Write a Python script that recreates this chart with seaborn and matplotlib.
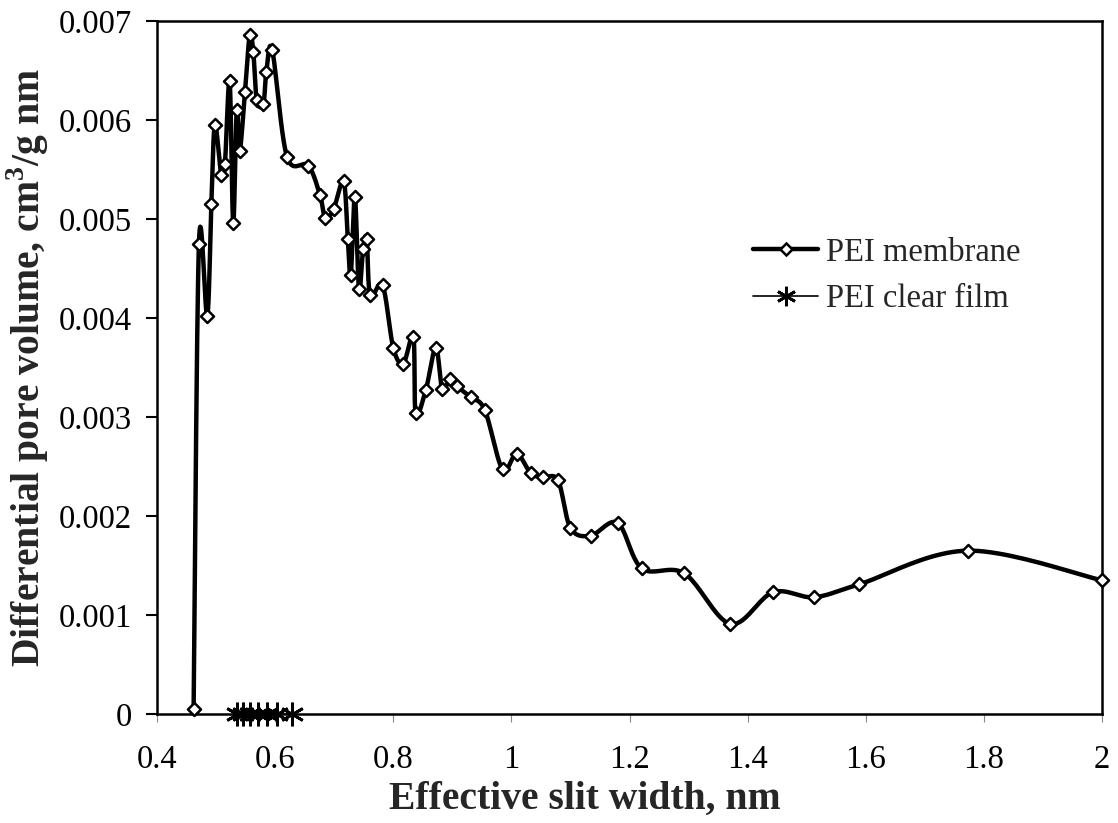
import numpy as np
import matplotlib
matplotlib.use("Agg")
import matplotlib.pyplot as plt
from matplotlib.lines import Line2D
import seaborn as sns

# Pore size distribution, PEI membrane
membrane_width = [0.462, 0.471, 0.485, 0.492, 0.498, 0.509, 0.515, 0.523, 0.529,
                  0.535, 0.540, 0.549, 0.557, 0.563, 0.569, 0.580, 0.585, 0.595,
                  0.620, 0.656, 0.676, 0.685, 0.699, 0.716, 0.723, 0.728, 0.735,
                  0.742, 0.749, 0.755, 0.761, 0.782, 0.800, 0.817, 0.834, 0.838,
                  0.855, 0.872, 0.883, 0.896, 0.908, 0.931, 0.955, 0.985, 1.009,
                  1.033, 1.054, 1.079, 1.100, 1.134, 1.180, 1.221, 1.293, 1.371,
                  1.443, 1.512, 1.589, 1.773, 2.000]
membrane_volume = [0.00005, 0.00475, 0.00402, 0.00515, 0.00595, 0.00544, 0.00556,
                   0.00639, 0.00496, 0.00610, 0.00569, 0.00628, 0.00686, 0.00669,
                   0.00620, 0.00616, 0.00648, 0.00671, 0.00563, 0.00554, 0.00524,
                   0.00501, 0.00510, 0.00538, 0.00480, 0.00443, 0.00522, 0.00429,
                   0.00470, 0.00480, 0.00423, 0.00433, 0.00370, 0.00354, 0.00381,
                   0.00304, 0.00327, 0.00370, 0.00328, 0.00338, 0.00331, 0.00320,
                   0.00307, 0.00247, 0.00263, 0.00243, 0.00239, 0.00236, 0.00188,
                   0.00180, 0.00193, 0.00147, 0.00142, 0.00091, 0.00123, 0.00118,
                   0.00131, 0.00165, 0.00135]

# Pore size distribution, PEI clear film
film_width = [0.535, 0.546, 0.557, 0.571, 0.586, 0.603, 0.628]
film_volume = [0.0, 0.0, 0.0, 0.0, 0.0, 0.0, 0.0]

series_labels = ["PEI membrane", "PEI clear film"]
x_ticks = [0.4, 0.6, 0.8, 1.0, 1.2, 1.4, 1.6, 1.8, 2.0]
x_tick_labels = ["0.4", "0.6", "0.8", "1", "1.2", "1.4", "1.6", "1.8", "2"]
y_ticks = [0.0, 0.001, 0.002, 0.003, 0.004, 0.005, 0.006, 0.007]
y_tick_labels = ["0", "0.001", "0.002", "0.003", "0.004", "0.005", "0.006", "0.007"]

sns.set_theme(style="ticks")
plt.rcParams["font.family"] = ["Liberation Serif", "DejaVu Serif"]
plt.rcParams["mathtext.fontset"] = "custom"
plt.rcParams["mathtext.rm"] = "Liberation Serif"
plt.rcParams["mathtext.bf"] = "Liberation Serif:bold"

W, H = 1118, 823
fig = plt.figure(figsize=(W / 100, H / 100), dpi=100)
ax_l, ax_r, ax_t, ax_b = 157, 1102, 21, 714
ax = fig.add_axes([ax_l / W, (H - ax_b) / H, (ax_r - ax_l) / W, (ax_b - ax_t) / H])

x_min, x_max, y_min, y_max = 0.4, 2.0, 0.0, 0.007


def smooth_curve(xs, ys, sx, sy, n=24):
    """Bezier-smoothed path through the points (Catmull-Rom tangents),
    computed in screen-proportional units so both axes are treated alike."""
    p = np.column_stack([np.asarray(xs) * sx, np.asarray(ys) * sy])
    ext = np.vstack([p[0], p, p[-1]])
    t = np.linspace(0, 1, n)[:, None]
    parts = []
    for i in range(len(p) - 1):
        p0, p1, p2, p3 = ext[i], ext[i + 1], ext[i + 2], ext[i + 3]
        c1 = p1 + (p2 - p0) / 6.0
        c2 = p2 - (p3 - p1) / 6.0
        seg = ((1 - t) ** 3) * p1 + 3 * ((1 - t) ** 2) * t * c1 \
            + 3 * (1 - t) * (t ** 2) * c2 + (t ** 3) * p2
        parts.append(seg if i == 0 else seg[1:])
    pts = np.vstack(parts)
    return pts[:, 0] / sx, pts[:, 1] / sy


sx = (ax_r - ax_l) / (x_max - x_min)
sy = (ax_b - ax_t) / (y_max - y_min)
cx, cy = smooth_curve(membrane_width, membrane_volume, sx, sy)

line_w = 3.2
sns.lineplot(x=cx, y=cy, sort=False, estimator=None, color="black",
             linewidth=line_w, ax=ax, zorder=3)
sns.scatterplot(x=membrane_width, y=membrane_volume, marker="D", s=44,
                color="white", edgecolor="black", linewidth=1.8, ax=ax,
                zorder=4, clip_on=False)

sns.lineplot(x=film_width, y=film_volume, sort=False, estimator=None,
             color="black", linewidth=1.2, marker=(6, 2, 0), markersize=17,
             markeredgewidth=2.0, markeredgecolor="black", ax=ax, zorder=5,
             clip_on=False)

ax.set_xlim(x_min, x_max)
ax.set_ylim(y_min, y_max)
ax.set_xticks(x_ticks)
ax.set_xticklabels(x_tick_labels)
ax.set_yticks(y_ticks)
ax.set_yticklabels(y_tick_labels)

for side in ["left", "right", "top", "bottom"]:
    ax.spines[side].set_visible(True)
    ax.spines[side].set_color("black")
    ax.spines[side].set_linewidth(1.8)

tick_fs = 23.5
ax.tick_params(axis="y", direction="out", length=8, width=1.5, pad=10,
               labelsize=tick_fs, colors="black")
ax.tick_params(axis="x", direction="out", length=6, width=0.8, pad=16,
               labelsize=tick_fs, color="#888888", labelcolor="black")

label_fs = 28.5
ax.set_xlabel("Effective slit width, nm", fontsize=label_fs, fontweight="bold")
ax.set_ylabel(r"Differential pore volume, cm$^{\mathbf{3}}$/g nm", fontsize=label_fs,
              fontweight="bold")
ax.xaxis.set_label_coords(0.453, -0.097)
ax.yaxis.set_label_coords(-0.112, 0.5)

handles = [
    Line2D([], [], color="black", linewidth=line_w, marker="D", markersize=6.6,
           markerfacecolor="white", markeredgecolor="black", markeredgewidth=1.8),
    Line2D([], [], color="black", linewidth=1.2, marker=(6, 2, 0), markersize=14,
           markeredgewidth=2.0, markeredgecolor="black"),
]
ax.legend(handles, series_labels, loc="upper left", bbox_to_anchor=(0.617, 0.707),
          frameon=False, fontsize=tick_fs, handlelength=2.0, handletextpad=0.22,
          labelspacing=0.5, borderaxespad=0)

fig.savefig("out.png", dpi=100)
